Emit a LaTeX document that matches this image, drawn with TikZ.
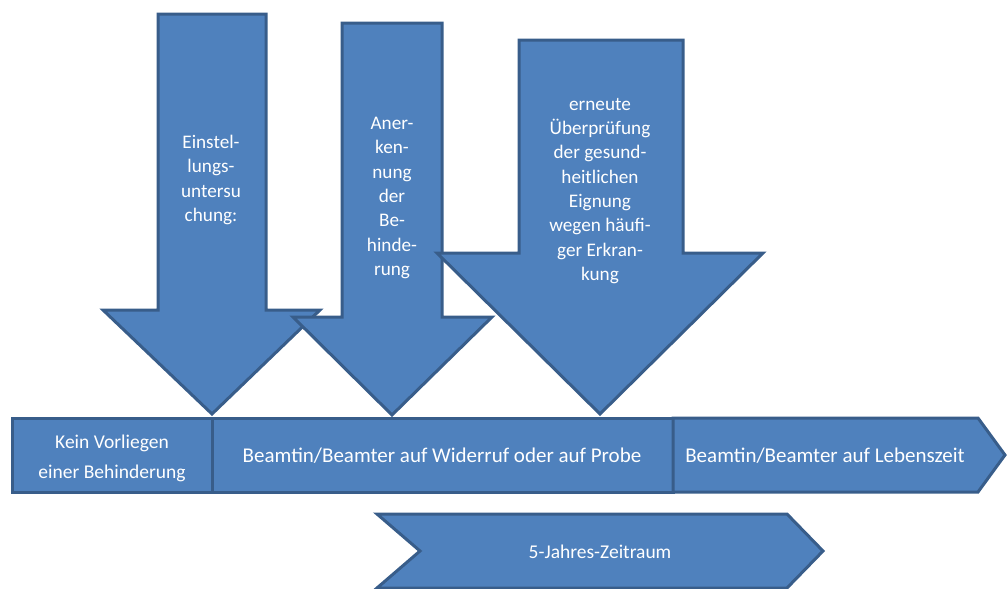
\documentclass[tikz,border=0pt]{standalone}
\usepackage{fontspec}
\setmainfont{Carlito}
\definecolor{blfill}{RGB}{79,129,189}
\definecolor{bldraw}{RGB}{56,93,138}
\tikzset{
  blshape/.style={fill=blfill, draw=bldraw, line width=3pt, line join=miter},
  bltext/.style={text=white, align=center, font=\fontsize{19.2}{24.3}\selectfont, inner sep=0pt},
  bartext/.style={text=white, align=center, font=\fontsize{19.5}{30}\selectfont, inner sep=0pt},
  bigtext/.style={text=white, align=center, font=\fontsize{21}{30}\selectfont, inner sep=0pt}
}
\begin{document}
\begin{tikzpicture}[x=1pt,y=-1pt]
\useasboundingbox (0,0) rectangle (1007,589);
% down arrows
\draw[blshape] (158,14) -- (266,14) -- (266,310) -- (320,310) -- (212,414) -- (103,310) -- (158,310) -- cycle;
\draw[blshape] (342,23) -- (442,23) -- (442,317) -- (492,317) -- (392,415) -- (293,317) -- (342,317) -- cycle;
\draw[blshape] (519,40) -- (683,40) -- (683,253) -- (763,253) -- (600,414) -- (437,253) -- (519,253) -- cycle;
\node[bltext] (t1) at (211,180) {Einstel-\\lungs-\\untersu\\chung:};
\node[bltext] (t2) at (392,198) {Aner-\\ken-\\nung\\der\\Be-\\hinde-\\rung};
\node[bltext] (t3) at (600,191) {erneute\\Überprüfung\\der gesund-\\heitlichen\\Eignung\\wegen häufi-\\ger Erkran-\\kung};
% bar
\draw[blshape] (12,418) rectangle (212,492);
\draw[blshape] (212,418) rectangle (673,492);
\draw[blshape] (673,418) -- (978,418) -- (1005,455) -- (978,492) -- (673,492) -- cycle;
\node[bartext] (b1) at (112,458) {Kein Vorliegen\\einer Behinderung};
\node[bigtext] (b2) at (442,456) {Beamtin/Beamter auf Widerruf oder auf Probe};
\node[bigtext] (b3) at (825,456) {Beamtin/Beamter auf Lebenszeit};
% chevron
\draw[blshape] (377,514) -- (787,514) -- (823,551) -- (787,588) -- (377,588) -- (420,551) -- cycle;
\node[bartext] (c1) at (600,552) {5-Jahres-Zeitraum};
\end{tikzpicture}
\end{document}
